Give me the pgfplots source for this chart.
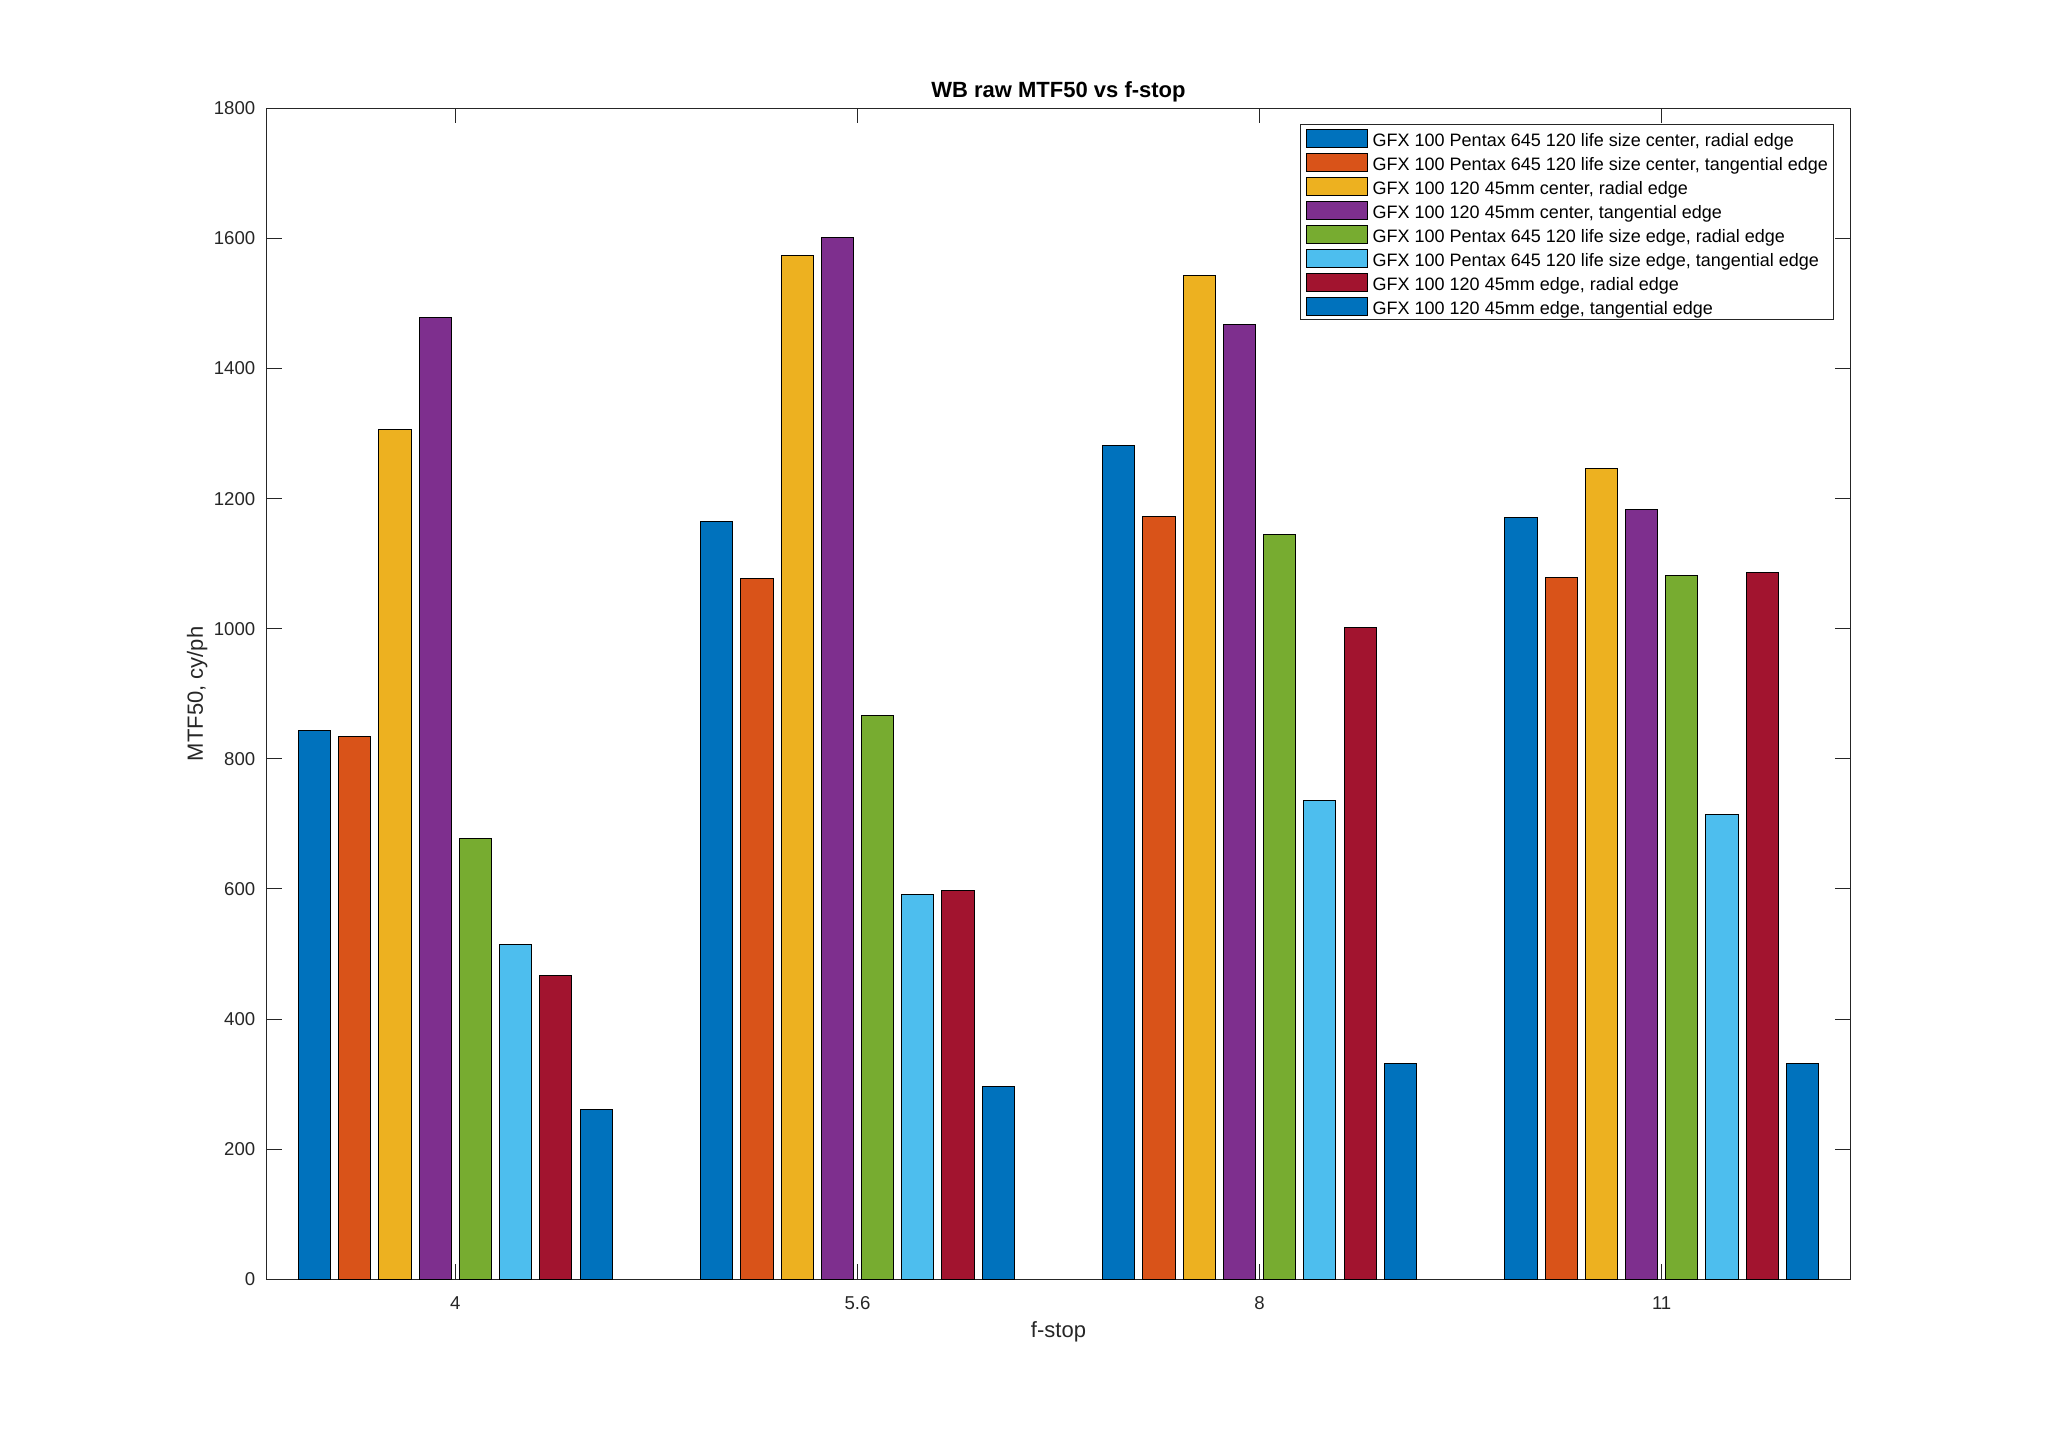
\documentclass[border=0pt]{standalone}
\usepackage{pgfplots}
\pgfplotsset{compat=1.18}
\usepackage{fontspec}
\setmainfont{Liberation Sans}
\definecolor{c1}{HTML}{0072BD}
\definecolor{c2}{HTML}{D95319}
\definecolor{c3}{HTML}{EDB120}
\definecolor{c4}{HTML}{7E2F8E}
\definecolor{c5}{HTML}{77AC30}
\definecolor{c6}{HTML}{4DBEEE}
\definecolor{c7}{HTML}{A2142F}
\definecolor{axgray}{gray}{0.15}
\begin{document}
\begin{tikzpicture}
\path[use as bounding box] (-133.35pt,-79.35pt) rectangle (889.15pt,639.65pt);
\begin{axis}[
  at={(0,0)}, anchor=south west,
  scale only axis, width=791.8pt, height=585.5pt,
  xmin=0.5308, xmax=4.4692, ymin=0, ymax=1800,
  xtick={1,2,3,4}, xticklabels={4,5.6,8,11},
  ytick={0,200,...,1800},
  ybar, bar width=0.08,
  tick align=inside, xtick align=inside, ytick align=inside,
  xtick pos=both, ytick pos=both, major tick length=7.5pt,
  axis line style={axgray, line width=0.5pt},
  every tick/.append style={axgray, line width=0.5pt},
  /pgf/number format/assume math mode=true,
  /pgf/number format/1000 sep={},
  ticklabel style={font=\fontsize{9.3}{11}\selectfont, text=axgray},
  xticklabel style={anchor=base, yshift=-15pt},
  yticklabel style={anchor=east, xshift=-2.2pt},
  every axis title shift=0pt,
  title={WB raw MTF50 vs f-stop},
  title style={font=\fontsize{11}{13}\selectfont\bfseries, at={(axis description cs:0.5,1)}, anchor=base, yshift=5.5pt},
  xlabel={f-stop},
  xlabel style={font=\fontsize{11}{13}\selectfont, text=axgray, at={(axis description cs:0.5,-0.0499)}, anchor=base},
  ylabel={MTF50, cy/ph},
  ylabel style={font=\fontsize{11}{13}\selectfont, text=axgray, at={(axis description cs:-0.0403,0.5)}, anchor=base},
  every axis plot/.append style={draw=black, line width=0.5pt,
    legend image code/.code={\draw[##1, draw=black, line width=0.5pt] (0pt,-4.5pt) rectangle (30.4pt,4.5pt);}},
  legend style={at={(1,1)}, anchor=north east, xshift=-8.2pt, yshift=-7.9pt,
    draw=axgray, line width=0.5pt, fill=white, font=\fontsize{9}{11}\selectfont,
    inner xsep=2.7pt, inner ysep=0.8pt, row sep=0pt, column sep=2.5pt,
    nodes={inner sep=0pt, text height=10.2pt, text depth=1.8pt}},
  legend cell align=left,
]
\addplot[fill=c1, bar shift=-0.35] coordinates {(1,843) (2,1165) (3,1281) (4,1171)};
\addlegendentry{\makebox[227pt][l]{GFX 100 Pentax 645 120 life size center, radial edge}}
\addplot[fill=c2, bar shift=-0.25] coordinates {(1,835) (2,1077) (3,1173) (4,1078)};
\addlegendentry{GFX 100 Pentax 645 120 life size center, tangential edge}
\addplot[fill=c3, bar shift=-0.15] coordinates {(1,1307) (2,1574) (3,1543) (4,1247)};
\addlegendentry{GFX 100 120 45mm center, radial edge}
\addplot[fill=c4, bar shift=-0.05] coordinates {(1,1479) (2,1601) (3,1467) (4,1183)};
\addlegendentry{GFX 100 120 45mm center, tangential edge}
\addplot[fill=c5, bar shift=0.05] coordinates {(1,677) (2,866) (3,1145) (4,1082)};
\addlegendentry{GFX 100 Pentax 645 120 life size edge, radial edge}
\addplot[fill=c6, bar shift=0.15] coordinates {(1,515) (2,591) (3,736) (4,714)};
\addlegendentry{GFX 100 Pentax 645 120 life size edge, tangential edge}
\addplot[fill=c7, bar shift=0.25] coordinates {(1,467) (2,598) (3,1002) (4,1086)};
\addlegendentry{GFX 100 120 45mm edge, radial edge}
\addplot[fill=c1, bar shift=0.35] coordinates {(1,261) (2,297) (3,331) (4,331)};
\addlegendentry{GFX 100 120 45mm edge, tangential edge}
\end{axis}
\end{tikzpicture}
\end{document}
